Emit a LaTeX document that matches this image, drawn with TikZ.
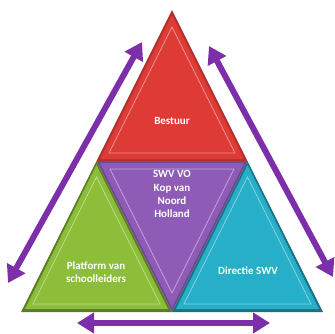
\documentclass[tikz,border=0pt]{standalone}
\usepackage{fontspec}
\setmainfont{Carlito}
\usetikzlibrary{arrows.meta}
\definecolor{cred}{HTML}{DE3B36}
\definecolor{cgreen}{HTML}{8CBE3A}
\definecolor{cpurple}{HTML}{8E5CB6}
\definecolor{ccyan}{HTML}{27AEC8}
\definecolor{carrow}{HTML}{7D2FAA}
\tikzset{
  lbl/.style={text=white,font=\bfseries\fontsize{11}{13}\selectfont,align=center,inner sep=0pt},
  dbl/.style={draw=carrow,line width=6pt,{Triangle[width=20pt,length=17pt]}-{Triangle[width=20pt,length=17pt]}}
}
\begin{document}
\begin{tikzpicture}[x=1pt,y=-1pt]
\useasboundingbox (0,0) rectangle (335,333);
% corners
\coordinate (T) at (172,10);
\coordinate (L) at (21,312);
\coordinate (R) at (323,312);
\coordinate (ML) at (96.5,161);
\coordinate (MR) at (247.5,161);
\coordinate (MB) at (172,312);
% red
\fill[cred!80!black] (T) -- (MR) -- (ML) -- cycle;
\fill[cred] (172,15) -- (244,159) -- (100,159) -- cycle;
\draw[white!45!cred,line width=0.8pt] (172,27) -- (235,153) -- (109,153) -- cycle;
% purple
\fill[cpurple!80!black] (ML) -- (MR) -- (MB) -- cycle;
\fill[cpurple] (100,163) -- (244,163) -- (172,307) -- cycle;
\draw[white!45!cpurple,line width=0.8pt] (110,169) -- (234,169) -- (172,293) -- cycle;
% green
\fill[cgreen!65!black] (ML) -- (MB) -- (L) -- cycle;
\fill[cgreen] (96.5,165) -- (168,309) -- (25,309) -- cycle;
\draw[white!45!cgreen,line width=0.8pt] (96.5,177) -- (160,304) -- (33,304) -- cycle;
% cyan
\fill[ccyan!65!black] (MR) -- (R) -- (MB) -- cycle;
\fill[ccyan] (247.5,165) -- (319,309) -- (176,309) -- cycle;
\draw[white!45!ccyan,line width=0.8pt] (247.5,177) -- (311,304) -- (184,304) -- cycle;
% labels
\node[lbl] (bestuur) at (172,121) {Bestuur};
\node[lbl] (swv) at (172,194) {SWV VO\\[1pt]Kop van\\Noord\\Holland};
\node[lbl] (platform) at (96,272) {Platform van\\schoolleiders};
\node[lbl] (directie) at (248,271) {Directie SWV};
% arrows
\coordinate (a1) at (142,42);
\coordinate (a2) at (8,283);
\coordinate (b1) at (209,46);
\coordinate (b2) at (333,277);
\coordinate (c1) at (77,323);
\coordinate (c2) at (270,323);
\draw[dbl] (a1) -- (a2);
\draw[dbl] (b1) -- (b2);
\draw[dbl] (c1) -- (c2);
\end{tikzpicture}
\end{document}
